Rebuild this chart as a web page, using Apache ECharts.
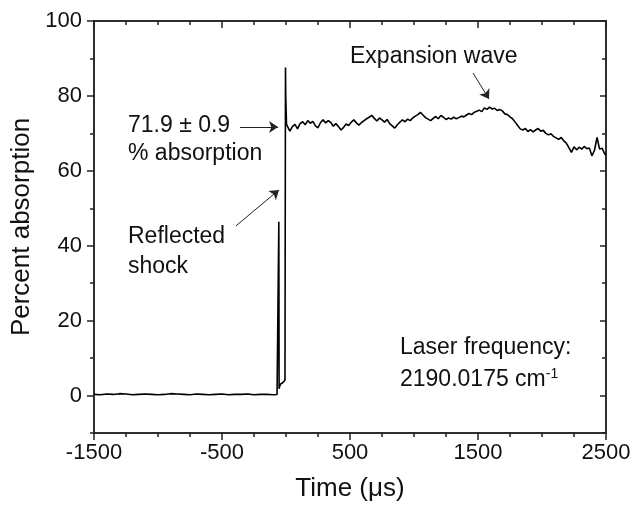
<!DOCTYPE html>
<html>
<head>
<meta charset="utf-8">
<style>
  html, body { margin: 0; padding: 0; background: #fff; }
  #chart { width: 644px; height: 515px; }
</style>
</head>
<body>
<div id="chart"></div>
<script src="https://cdn.jsdelivr.net/npm/echarts@6/dist/echarts.min.js"></script>
<script>
// pre-shock baseline (time in us, percent absorption)
var baseTimes = [-1500,-1450,-1400,-1350,-1300,-1250,-1200,-1150,-1100,-1050,-1000,-950,-900,-850,-800,-750,-700,-650,-600,-550,-500,-450,-400,-350,-300,-250,-200,-150,-100,-70];
var baseValues = [0.3,0.2,0.4,0.3,0.5,0.4,0.2,0.3,0.4,0.3,0.2,0.3,0.5,0.4,0.3,0.2,0.4,0.3,0.2,0.3,0.4,0.2,0.3,0.3,0.4,0.2,0.3,0.3,0.2,0.3];
// incident / reflected shock arrival
var shockTimes = [-62,-57,-56,-54,-50,-42,-34,-26,-18,-12,-8,-4,-2,4];
var shockValues = [0.4,0.6,46.4,1.8,2.4,3.1,2.6,3.4,3.9,3.2,4.1,87.6,80.0,72.4];
// post-shock trace, sampled every 20 us from 10 us
var traceStart = 10, traceStep = 20;
var traceValues = [
  72.8,70.6,71.8,72.4,71.2,72.6,73.1,72.3,73.4,72.7,
  73.2,72.0,71.5,72.9,73.6,72.8,73.4,72.9,71.9,72.6,
  71.8,70.9,71.6,72.5,72.1,73.0,73.6,72.8,72.2,72.9,
  73.4,73.9,74.3,74.8,74.0,73.3,74.1,73.6,73.0,73.7,
  72.6,72.0,71.4,72.3,73.0,73.6,73.1,73.8,73.4,74.1,
  74.6,75.0,75.6,74.9,74.2,73.8,73.4,74.0,74.5,73.9,
  74.8,74.3,73.7,74.1,73.8,74.3,73.9,74.2,74.6,74.4,
  74.9,75.3,75.0,75.6,75.9,76.2,75.8,76.8,76.4,77.0,
  76.5,76.7,76.1,76.4,76.0,75.2,75.0,74.4,73.9,73.0,
  72.1,71.2,70.9,71.3,70.5,71.0,70.4,70.9,71.3,70.6,
  70.8,70.0,69.6,69.9,69.2,68.8,68.4,68.9,68.0,67.4,
  66.2,64.9,66.4,65.6,66.3,65.8,66.5,65.9,66.1,64.0,
  65.5,68.9,65.8,66.0,64.5
];
var endTime = 2500, endValue = 64.2;

var xLabelTicks = [-1500,-500,500,1500,2500];
var xMinorTicks = [-1250,-1000,-750,-250,0,250,750,1000,1250,1750,2000,2250];
var yLabelTicks = [0,20,40,60,80,100];
var yMinorTicks = [-10,10,30,50,70,90];

var points = [];
baseTimes.forEach(function (t, i) { points.push([t, baseValues[i]]); });
shockTimes.forEach(function (t, i) { points.push([t, shockValues[i]]); });
traceValues.forEach(function (v, i) { points.push([traceStart + i * traceStep, v]); });
points.push([endTime, endValue]);

var FONT = '"Liberation Sans", Arial, sans-serif';
var AX = '#222';

function xAx(pos, ticks, len, inside, labels) {
  return {
    type: 'value', min: -1500, max: 2500, position: pos,
    axisLine: { show: true, onZero: false, lineStyle: { color: AX, width: 1.5 } },
    axisTick: { show: true, inside: inside, length: len, customValues: ticks, lineStyle: { color: AX, width: 1.5 } },
    axisLabel: labels ? {
      show: true, customValues: ticks, margin: 9, color: '#111', fontSize: 22, fontFamily: FONT,
      formatter: function (v) { return String(v); }
    } : { show: false },
    splitLine: { show: false }
  };
}
function yAx(pos, ticks, len, inside, labels) {
  return {
    type: 'value', min: -10, max: 100, position: pos,
    axisLine: { show: true, onZero: false, lineStyle: { color: AX, width: 1.5 } },
    axisTick: { show: true, inside: inside, length: len, customValues: ticks, lineStyle: { color: AX, width: 1.5 } },
    axisLabel: labels ? {
      show: true, customValues: ticks, margin: 12, color: '#111', fontSize: 22, fontFamily: FONT,
      formatter: function (v) { return String(v); }
    } : { show: false },
    splitLine: { show: false }
  };
}

var xMain = xAx('bottom', xLabelTicks, 7, false, true);
xMain.name = 'Time (\u03bcs)';
xMain.nameLocation = 'middle';
xMain.nameGap = 43;
xMain.nameTextStyle = { color: '#111', fontSize: 26, fontFamily: FONT };
var yMain = yAx('left', yLabelTicks, 7, false, true);
yMain.name = 'Percent absorption';
yMain.nameLocation = 'middle';
yMain.nameGap = 56;
yMain.nameTextStyle = { color: '#111', fontSize: 26, fontFamily: FONT };

var chart = echarts.init(document.getElementById('chart'));
chart.setOption({
  backgroundColor: '#fff',
  animation: false,
  grid: { left: 94, right: 38, top: 21, bottom: 82, containLabel: false },
  xAxis: [
    xMain,
    xAx('bottom', xMinorTicks, 4, false, false),
    xAx('top', xLabelTicks, 7, true, false),
    xAx('top', xMinorTicks, 4, true, false)
  ],
  yAxis: [
    yMain,
    yAx('left', yMinorTicks, 4, false, false),
    yAx('right', yLabelTicks, 6, true, false),
    yAx('right', yMinorTicks, 4, true, false)
  ],
  series: [{
    type: 'line',
    data: points,
    showSymbol: false,
    lineStyle: { color: '#000', width: 1.6 },
    markLine: {
      silent: true,
      symbol: ['none', 'arrow'],
      symbolSize: 9,
      label: { show: false },
      lineStyle: { color: '#222', width: 1, type: 'solid' },
      data: [
        [{ coord: [-360, 71.7] }, { coord: [-62, 71.7] }],
        [{ coord: [-391, 45.3] }, { coord: [-55, 54.9] }],
        [{ coord: [1461, 86.1] }, { coord: [1586, 79.2] }]
      ]
    }
  }],
  graphic: [
    { type: 'text', x: 128, y: 126, style: { text: '71.9 \u00b1 0.9', fill: '#111', font: '23px ' + FONT, verticalAlign: 'middle' } },
    { type: 'text', x: 128, y: 154, style: { text: '% absorption', fill: '#111', font: '23px ' + FONT, verticalAlign: 'middle' } },
    { type: 'text', x: 128, y: 237, style: { text: 'Reflected', fill: '#111', font: '23px ' + FONT, verticalAlign: 'middle' } },
    { type: 'text', x: 128, y: 267, style: { text: 'shock', fill: '#111', font: '23px ' + FONT, verticalAlign: 'middle' } },
    { type: 'text', x: 350, y: 57, style: { text: 'Expansion wave', fill: '#111', font: '23px ' + FONT, verticalAlign: 'middle' } },
    { type: 'text', x: 400, y: 348, style: { text: 'Laser frequency:', fill: '#111', font: '23px ' + FONT, verticalAlign: 'middle' } },
    { type: 'text', x: 400, y: 380, style: {
        text: '{m|2190.0175 cm}{s|-1}', verticalAlign: 'middle',
        rich: {
          m: { fill: '#111', fontSize: 23, fontFamily: FONT },
          s: { fill: '#111', fontSize: 14, fontFamily: FONT, verticalAlign: 'top', padding: [0, 0, 12, 0] }
        }
    } }
  ]
});
</script>
</body>
</html>
